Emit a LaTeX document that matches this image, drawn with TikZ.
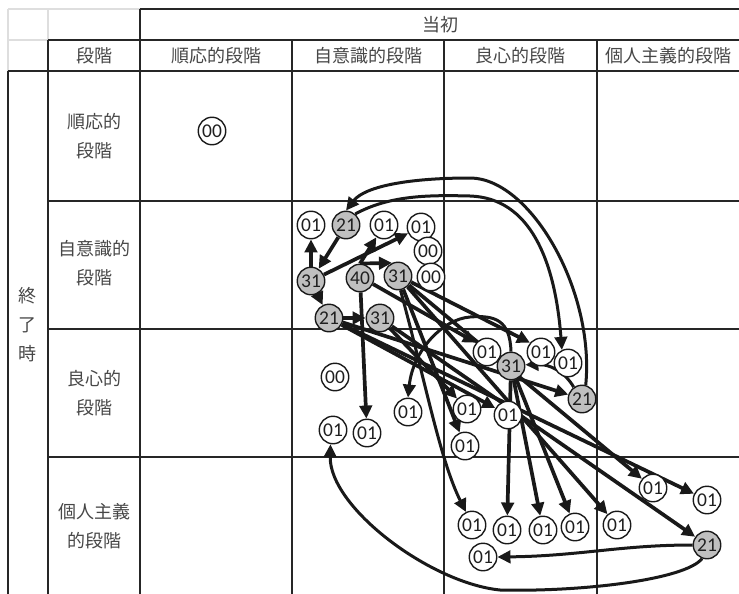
\documentclass[tikz,border=0pt]{standalone}
\usepackage{fontspec}
\newfontfamily\cjk{Noto Sans CJK JP}
\newfontfamily\numfont{Carlito}
\usetikzlibrary{arrows.meta}
\pgfdeclarelayer{bg}
\pgfsetlayers{bg,main}
\begin{document}
\begin{tikzpicture}[x=1pt,y=-1pt,
  gridd/.style={line width=2pt,draw=black!85},
  gridl/.style={line width=2pt,draw=black!13},
  hdr/.style={font=\cjk\fontsize{18}{29}\selectfont, text=black!72, align=center, inner sep=0pt},
  st/.style={circle,draw=black!90,line width=1.4pt,minimum size=27.5pt,inner sep=0pt,font=\numfont\fontsize{19.5}{19.5}\selectfont,text=black!88},
  w/.style={st,fill=white},
  g/.style={st,fill=black!25},
  arr/.style={line width=3.7pt,draw=black!90,-{Triangle[length=13pt,width=12.5pt]}},
  carr/.style={arr,line width=3pt},
]
\useasboundingbox (0,0) rectangle (739,594);

% texts
\node[hdr] (toushoh) at (440,25) {当初};
\node[hdr] (dankai) at (94,56) {段階};
\node[hdr] (c1) at (216,56) {順応的段階};
\node[hdr] (c2) at (368,56) {自意識的段階};
\node[hdr] (c3) at (520,56) {良心的段階};
\node[hdr] (c4) at (668,56) {個人主義的段階};
\node[hdr] (r1) at (94,136) {順応的\\段階};
\node[hdr] (r2) at (94,263) {自意識的\\段階};
\node[hdr] (r3) at (94,393) {良心的\\段階};
\node[hdr] (r4) at (94,526) {個人主義\\的段階};
\node[hdr] (shuryo) at (28,325) {終\\了\\時};

% circles
\node[w] (a00) at (212,131) {00};
\node[w] (n01a) at (311,225) {01};
\node[g] (g21a) at (346,225) {21};
\node[w] (n01b) at (384,225) {01};
\node[w] (n01c) at (421,227) {01};
\node[w] (n00b) at (428,251) {00};
\node[g] (g31a) at (311,281) {31};
\node[g] (g40) at (360,278) {40};
\node[g] (g31b) at (398,276) {31};
\node[w] (n00c) at (431,277) {00};
\node[g] (g21b) at (329,318) {21};
\node[g] (g31c) at (380,318) {31};
\node[w] (n01d) at (487,352) {01};
\node[g] (g31d) at (511,366) {31};
\node[w] (n01e) at (541,352) {01};
\node[w] (n01f) at (568,363) {01};
\node[g] (g21c) at (582,399) {21};
\node[w] (n00d) at (335,377) {00};
\node[w] (n01g) at (408,412) {01};
\node[w] (n01h) at (467,409) {01};
\node[w] (n01i) at (508,415) {01};
\node[w] (n01j) at (465,446) {01};
\node[w] (n01k) at (333,430) {01};
\node[w] (n01l) at (367,433) {01};
\node[w] (n01m) at (653,488) {01};
\node[w] (n01n) at (707,500) {01};
\node[w] (n01o) at (472,525) {01};
\node[w] (n01p) at (507,530) {01};
\node[w] (n01q) at (543,530) {01};
\node[w] (n01r) at (575,527) {01};
\node[w] (n01s) at (617,525) {01};
\node[w] (n01t) at (483,557) {01};
\node[g] (g21d) at (707,545) {21};

\begin{pgfonlayer}{bg}
% grid
\draw[gridl] (8,9) -- (140,9);
\draw[gridl] (8,40) -- (48,40);
\draw[gridl] (8,9) -- (8,71);
\draw[gridl] (48,9) -- (48,40);
\draw[gridd] (140,9) -- (739,9);
\draw[gridd] (48,40) -- (739,40);
\draw[gridd,line width=2.6pt] (8,71) -- (739,71);
\draw[gridd] (48,201) -- (739,201);
\draw[gridd] (48,329) -- (739,329);
\draw[gridd] (48,457) -- (739,457);
\draw[gridd] (8,71) -- (8,594);
\draw[gridd] (48,40) -- (48,594);
\draw[gridd] (140,9) -- (140,594);
\draw[gridd] (292,40) -- (292,594);
\draw[gridd] (444,40) -- (444,594);
\draw[gridd] (597,40) -- (597,594);

% arrows
\draw[arr] (g31a) -- (n01a);
\draw[arr] (g21a) -- (g31a);
\draw[arr] (g31a) -- (n01c);
\draw[arr] (g40.north) -- (n01b);
\draw[arr] (g40.north) -- (g31b.115);
\draw[arr] (g31a) -- (g21b);
\draw[arr] (g21b) -- (g31c);
\draw[carr] (g21c.75) .. controls (595,290) and (530,178) .. (470,178) .. controls (410,178) and (365,186) .. (g21a.north);
\draw[carr] (g21a.50) .. controls (390,195) and (430,195) .. (470,196) .. controls (530,198) and (555,260) .. (n01f.115);
\draw[carr] (g21c.125) .. controls (565,372) and (550,364) .. (g31d.5);
\draw[carr] (g31d.north) .. controls (510,320) and (495,315) .. (470,317) .. controls (443,319) and (413,350) .. (n01g.north);
\draw[arr] (g40) -- (n01l);
\draw[arr] (g40.-25) -- (n01d.140);
\draw[arr] (g31b.-25) -- (n01e.140);
\draw[arr] (g31b) -- (n01j);
\draw[carr] (g31b.-80) .. controls (425,380) and (440,460) .. (n01o.115);
\draw[arr] (g31b) -- (n01m);
\draw[arr] (g31b) -- (n01s);
\draw[arr] (g31c) -- (n01h);
\draw[arr] (g31c) -- (g21d);
\draw[arr] (g21b) -- (g21c);
\draw[arr] (g21b) -- (n01i);
\draw[arr] (g21b) -- (n01n);
\draw[arr] (g31d) -- (n01p);
\draw[arr] (g31d) -- (n01q);
\draw[arr] (g31d) -- (n01r);
\draw[carr] (g21d.west) .. controls (620,545) and (580,556) .. (n01t.east);
\draw[carr] (g21d.250) .. controls (685,580) and (580,592) .. (500,590) .. controls (430,583) and (329,507) .. (n01k.260);
\end{pgfonlayer}
\end{tikzpicture}
\end{document}
